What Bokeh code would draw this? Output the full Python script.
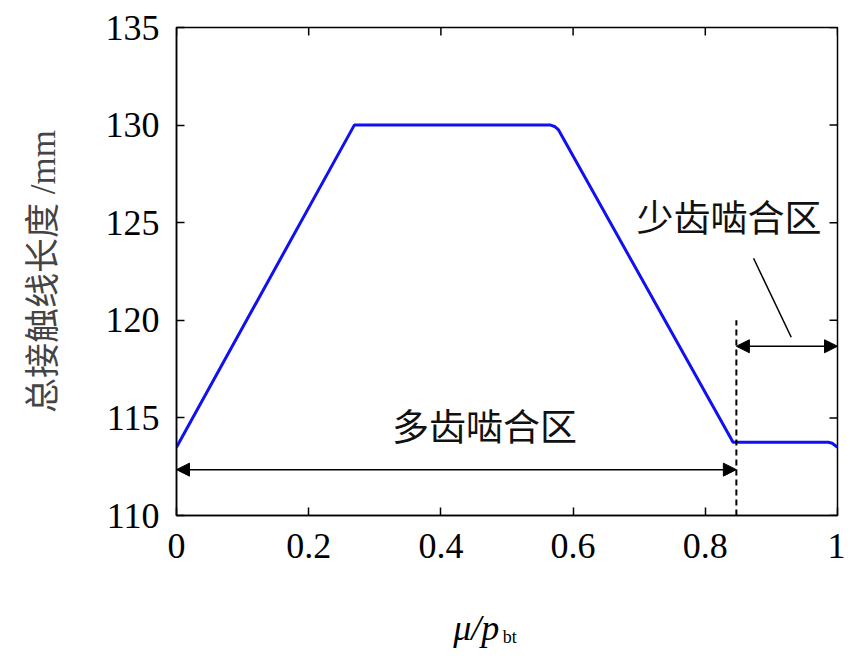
import math
from bokeh.plotting import figure
from bokeh.layouts import column
from bokeh.models import (Arrow, NormalHead, Label, FixedTicker,
                          Range1d, ColumnDataSource)
from bokeh.core.properties import value
from bokeh.embed import file_html
from bokeh.resources import INLINE

# ---- data ----
mu = [0.0, 0.269, 0.566, 0.572, 0.578, 0.842, 0.986, 0.992, 1.0]
length_mm = [113.5, 130.0, 130.0, 129.93, 129.75, 113.75, 113.75, 113.7, 113.5]

x_ticks = [0.0, 0.2, 0.4, 0.6, 0.8, 1.0]
x_tick_labels = ["0", "0.2", "0.4", "0.6", "0.8", "1"]
y_ticks = [110, 115, 120, 125, 130, 135]

boundary_x = 0.847           # multi/few tooth boundary
boundary_y = [110.0, 120.0]  # dashed line extent
multi_arrow = [0.0, 0.847, 112.35]   # x_start, x_end, y
few_arrow = [0.847, 1.0, 118.67]
leader = [0.873, 123.18, 0.930, 119.13]
multi_text = ["多齿啮合区", 0.466, 114.63]
few_text = ["少齿啮合区", 0.836, 125.32]
x_label_main = ["μ/p", 0.4186, 0.27]
x_label_sub = ["bt", 0.4935, 0.165]

SERIF = "Liberation Serif"
CJK = "Noto Sans CJK SC"

p = figure(width=845, height=565, output_backend="svg", toolbar_location=None,
           x_range=Range1d(0, 1), y_range=Range1d(110, 135),
           min_border_left=176, min_border_right=8, min_border_top=27,
           min_border_bottom=50, background_fill_color="white",
           border_fill_color="white")
p.grid.visible = False
p.outline_line_color = "black"
p.outline_line_width = 1.5

for ax in (p.xaxis[0], p.yaxis[0]):
    ax.axis_line_width = 1.5
    ax.major_tick_in = 8
    ax.major_tick_out = 0
    ax.minor_tick_in = 0
    ax.minor_tick_out = 0
    ax.major_tick_line_width = 1.5
    ax.major_label_text_font = SERIF
    ax.major_label_text_font_size = "36px"
    ax.major_label_text_color = "black"

p.xaxis[0].ticker = FixedTicker(ticks=x_ticks)
p.xaxis[0].major_label_overrides = {t: s for t, s in zip(x_ticks, x_tick_labels)}
p.xaxis[0].major_label_standoff = 18
p.yaxis[0].ticker = FixedTicker(ticks=y_ticks)
p.yaxis[0].major_label_standoff = 17
p.yaxis[0].axis_label = "总接触线长度 /mm"
p.yaxis[0].axis_label_text_font = f"{SERIF}, {CJK}"
p.yaxis[0].axis_label_text_font_size = "35px"
p.yaxis[0].axis_label_text_font_style = "normal"
p.yaxis[0].axis_label_standoff = 40

# mirrored inward ticks on right and top frame edges
p.ray(x=[1.0] * len(y_ticks), y=y_ticks, length=8, length_units="screen",
      angle=math.pi, line_color="black", line_width=1.5)
p.ray(x=x_ticks, y=[135.0] * len(x_ticks), length=8, length_units="screen",
      angle=-math.pi / 2, line_color="black", line_width=1.5)

# main curve
src = ColumnDataSource(dict(x=mu, y=length_mm))
p.line("x", "y", source=src, line_color="#1010f0", line_width=3)

# boundary dashed line
p.line([boundary_x, boundary_x], boundary_y, line_color="black",
       line_width=2, line_dash="6 4")

# arrows
for xs, xe, yy in (multi_arrow, few_arrow):
    p.add_layout(Arrow(x_start=xs, y_start=yy, x_end=xe, y_end=yy,
                       line_width=1.5, line_color="black",
                       start=NormalHead(size=13, fill_color="black", line_color="black"),
                       end=NormalHead(size=13, fill_color="black", line_color="black")))

# leader line
p.line([leader[0], leader[2]], [leader[1], leader[3]], line_color="black",
       line_width=1.5)

# region texts
for txt, tx, ty in (multi_text, few_text):
    p.add_layout(Label(x=tx, y=ty, text=txt, text_font=CJK,
                       text_font_size="37px", text_align="center",
                       text_baseline="middle", text_color="#111111"))

# x-axis label  mu / p_bt drawn in a strip below the plot
sub = figure(width=845, height=86, output_backend="svg", toolbar_location=None,
             x_range=p.x_range, y_range=Range1d(0, 1),
             min_border_left=176, min_border_right=8, min_border_top=0,
             min_border_bottom=0, background_fill_color="white",
             border_fill_color="white")
sub.axis.visible = False
sub.grid.visible = False
sub.outline_line_color = None
sub.text(x=[x_label_main[1]], y=[x_label_main[2]], text=[x_label_main[0]],
         text_font=value(SERIF), text_font_size="36px",
         text_font_style="italic", text_align="left",
         text_baseline="alphabetic", text_color="black")
sub.text(x=[x_label_sub[1]], y=[x_label_sub[2]], text=[x_label_sub[0]],
         text_font=value(SERIF), text_font_size="18px",
         text_align="left", text_baseline="alphabetic", text_color="black")

layout = column(p, sub, spacing=0)
open("out.html", "w").write(file_html(layout, INLINE))
